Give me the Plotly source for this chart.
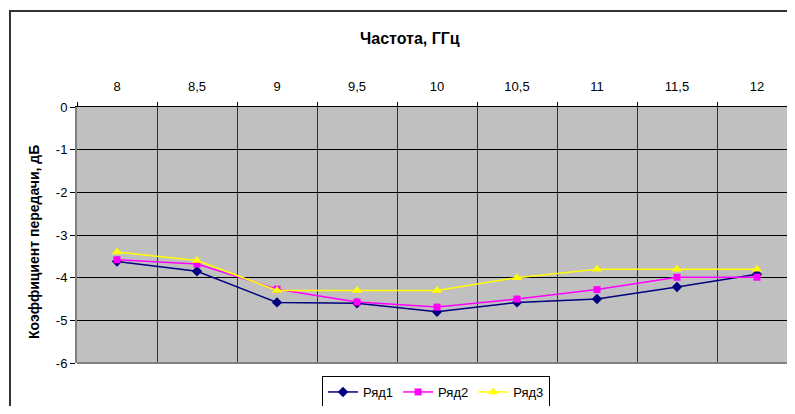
import plotly.graph_objects as go

freq_labels = ["8", "8,5", "9", "9,5", "10", "10,5", "11", "11,5", "12"]
series1 = [-3.62, -3.85, -4.58, -4.6, -4.8, -4.58, -4.5, -4.22, -3.92]
series2 = [-3.58, -3.68, -4.27, -4.57, -4.69, -4.5, -4.28, -3.99, -3.99]
series3 = [-3.4, -3.6, -4.3, -4.3, -4.3, -4.0, -3.8, -3.8, -3.8]
series_names = ["Ряд1", "Ряд2", "Ряд3"]
y_ticks = [0, -1, -2, -3, -4, -5, -6]
y_ticktext = ["0", "-1", "-2", "-3", "-4", "-5", "-6"]

FONT = "Liberation Sans, Arial, sans-serif"

# page body has an 8px margin on every side; keep the page inside the window
OFF = 8
W, H = 795 - 2 * OFF, 414 - 2 * OFF
L, T = 77 - OFF, 107 - OFF
PW, PH = W - L, 256
B = H - T - PH


def px_x(px):
    return (px - OFF - L) / PW


def px_y(py):
    return (T + PH - (py - OFF)) / PH


fig = go.Figure()
styles = [
    dict(color="#000080", symbol="diamond", size=8),
    dict(color="#FF00FF", symbol="square", size=7),
    dict(color="#FFFF00", symbol="triangle-up", size=9),
]
for name, vals, st in zip(series_names, [series1, series2, series3], styles):
    fig.add_trace(go.Scatter(
        x=freq_labels, y=vals, name=name, mode="lines+markers",
        line=dict(color=st["color"], width=1.5),
        marker=dict(color=st["color"], symbol=st["symbol"], size=st["size"]),
    ))

fig.update_layout(
    width=W, height=H,
    margin=dict(l=L, r=0, t=T, b=B, autoexpand=False),
    paper_bgcolor="white",
    plot_bgcolor="#C0C0C0",
    font=dict(family=FONT, size=12, color="black"),
    showlegend=True,
    legend=dict(
        orientation="h", x=px_x(436), xanchor="center", y=px_y(376), yanchor="top",
        bordercolor="black", borderwidth=1, bgcolor="white",
        font=dict(family=FONT, size=13), itemwidth=30,
        tracegroupgap=0,
    ),
    xaxis=dict(
        type="category", side="top", categoryorder="array", categoryarray=freq_labels,
        range=[-0.5, -0.5 + PW / 80], tickson="boundaries", ticks="outside", ticklen=4,
        tickcolor="black", showgrid=True, gridcolor="#333333", gridwidth=1,
        showline=True, linecolor="black", linewidth=1,
        ticklabelstandoff=10, tickfont=dict(size=13),
    ),
    yaxis=dict(
        range=[-6, 0], tickvals=y_ticks, ticktext=y_ticktext,
        ticks="outside", ticklen=5, tickcolor="black",
        showgrid=True, gridcolor="black", gridwidth=1,
        zeroline=False, showline=True, linecolor="#808080", linewidth=2,
        tickfont=dict(size=13),
    ),
    annotations=[
        dict(text="<b>Частота, ГГц</b>", xref="paper", yref="paper",
             x=px_x(410), y=px_y(38), showarrow=False,
             font=dict(family=FONT, size=16), xanchor="center", yanchor="middle"),
        dict(text="<b>Коэффициент передачи, дБ</b>", xref="paper", yref="paper",
             x=px_x(34), y=px_y(242), showarrow=False, textangle=-90,
             font=dict(family=FONT, size=14), xanchor="center", yanchor="middle"),
    ],
    shapes=[
        dict(type="rect", xref="paper", yref="paper",
             x0=px_x(10), x1=px_x(805), y0=px_y(425), y1=px_y(11),
             line=dict(color="#333333", width=2), layer="below"),
        dict(type="line", xref="paper", yref="paper", x0=0, x1=1, y0=0, y1=0,
             line=dict(color="#808080", width=2)),
    ],
)

fig.write_html("out.html")
